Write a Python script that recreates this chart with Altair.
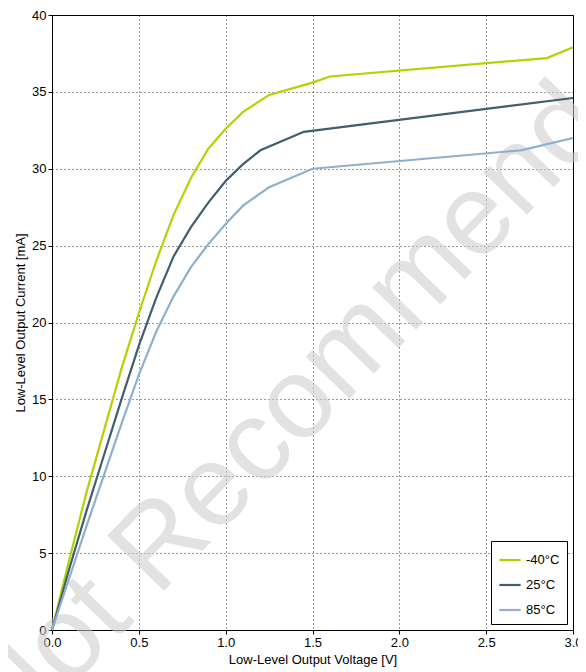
import altair as alt
import pandas as pd

series = ["-40°C", "25°C", "85°C"]
colors = ["#b5d200", "#3d5f6e", "#8fb0cc"]
x_m40 = [0, 0.1, 0.2, 0.3, 0.4, 0.5, 0.6, 0.7, 0.8, 0.9, 1.0, 1.1, 1.25, 1.5, 1.6, 2.85, 3.0]
y_m40 = [0, 4.6, 9.0, 13.0, 17.0, 20.6, 24.0, 27.0, 29.4, 31.3, 32.6, 33.7, 34.8, 35.6, 36.0, 37.2, 37.9]
x_25 = [0, 0.1, 0.2, 0.3, 0.4, 0.5, 0.6, 0.7, 0.8, 0.9, 1.0, 1.1, 1.2, 1.45, 3.0]
y_25 = [0, 4.0, 7.8, 11.4, 15.0, 18.5, 21.6, 24.3, 26.2, 27.8, 29.2, 30.3, 31.2, 32.4, 34.6]
x_85 = [0, 0.1, 0.2, 0.3, 0.4, 0.5, 0.6, 0.7, 0.8, 0.9, 1.0, 1.1, 1.25, 1.5, 2.7, 3.0]
y_85 = [0, 3.4, 6.8, 10.1, 13.4, 16.6, 19.4, 21.7, 23.6, 25.1, 26.4, 27.6, 28.8, 30.0, 31.2, 32.0]

rows = []
for s, xs, ys in [(series[0], x_m40, y_m40), (series[1], x_25, y_25), (series[2], x_85, y_85)]:
    for i, (a, b) in enumerate(zip(xs, ys)):
        rows.append({"s": s, "x": a, "y": b, "o": i})
df = pd.DataFrame(rows)

lines = alt.Chart(df).mark_line(strokeWidth=2.2).encode(
    x=alt.X("x:Q", title="Low-Level Output Voltage [V]", scale=alt.Scale(domain=[0, 3], nice=False),
            axis=alt.Axis(values=[0, 0.5, 1, 1.5, 2, 2.5, 3], format=".1f", labelFlush=False)),
    y=alt.Y("y:Q", title="Low-Level Output Current [mA]", scale=alt.Scale(domain=[0, 40], nice=False),
            axis=alt.Axis(values=list(range(0, 41, 5)), labelFlush=False)),
    color=alt.Color("s:N", scale=alt.Scale(domain=series, range=colors), title=None,
                    legend=alt.Legend(orient="bottom-right", strokeColor="black", fillColor="white",
                                      padding=7, symbolType="stroke", symbolStrokeWidth=2.2,
                                      symbolSize=450, labelFontSize=13, offset=6, rowPadding=6)),
    order="o:Q",
)

wm = alt.Chart(pd.DataFrame({"t": ["Not Recommended"], "x": [1.6], "y": [17.0]})).mark_text(
    angle=314, fontSize=115, color="#cccccc", opacity=0.55, font="Liberation Sans"
).encode(x="x:Q", y="y:Q", text="t:N")

chart = alt.layer(wm, lines).properties(
    width=521, height=615,
    autosize=alt.AutoSizeParams(type="none"),
    padding={"left": 44, "top": 7, "right": 5, "bottom": 42},
).configure_view(stroke="black", strokeWidth=1).configure_axis(
    grid=True, gridColor="black", gridDash=[1, 3], gridOpacity=0.8, domainColor="black",
    tickColor="black", tickSize=4, labelColor="black", titleColor="black",
    labelFont="Liberation Sans", titleFont="Liberation Sans", labelFontSize=13, titleFontSize=13,
    titleFontWeight="normal", titlePadding=4
).configure_legend(labelFont="Liberation Sans")

chart.save("out.html", embed_options={"renderer": "svg", "actions": False})
